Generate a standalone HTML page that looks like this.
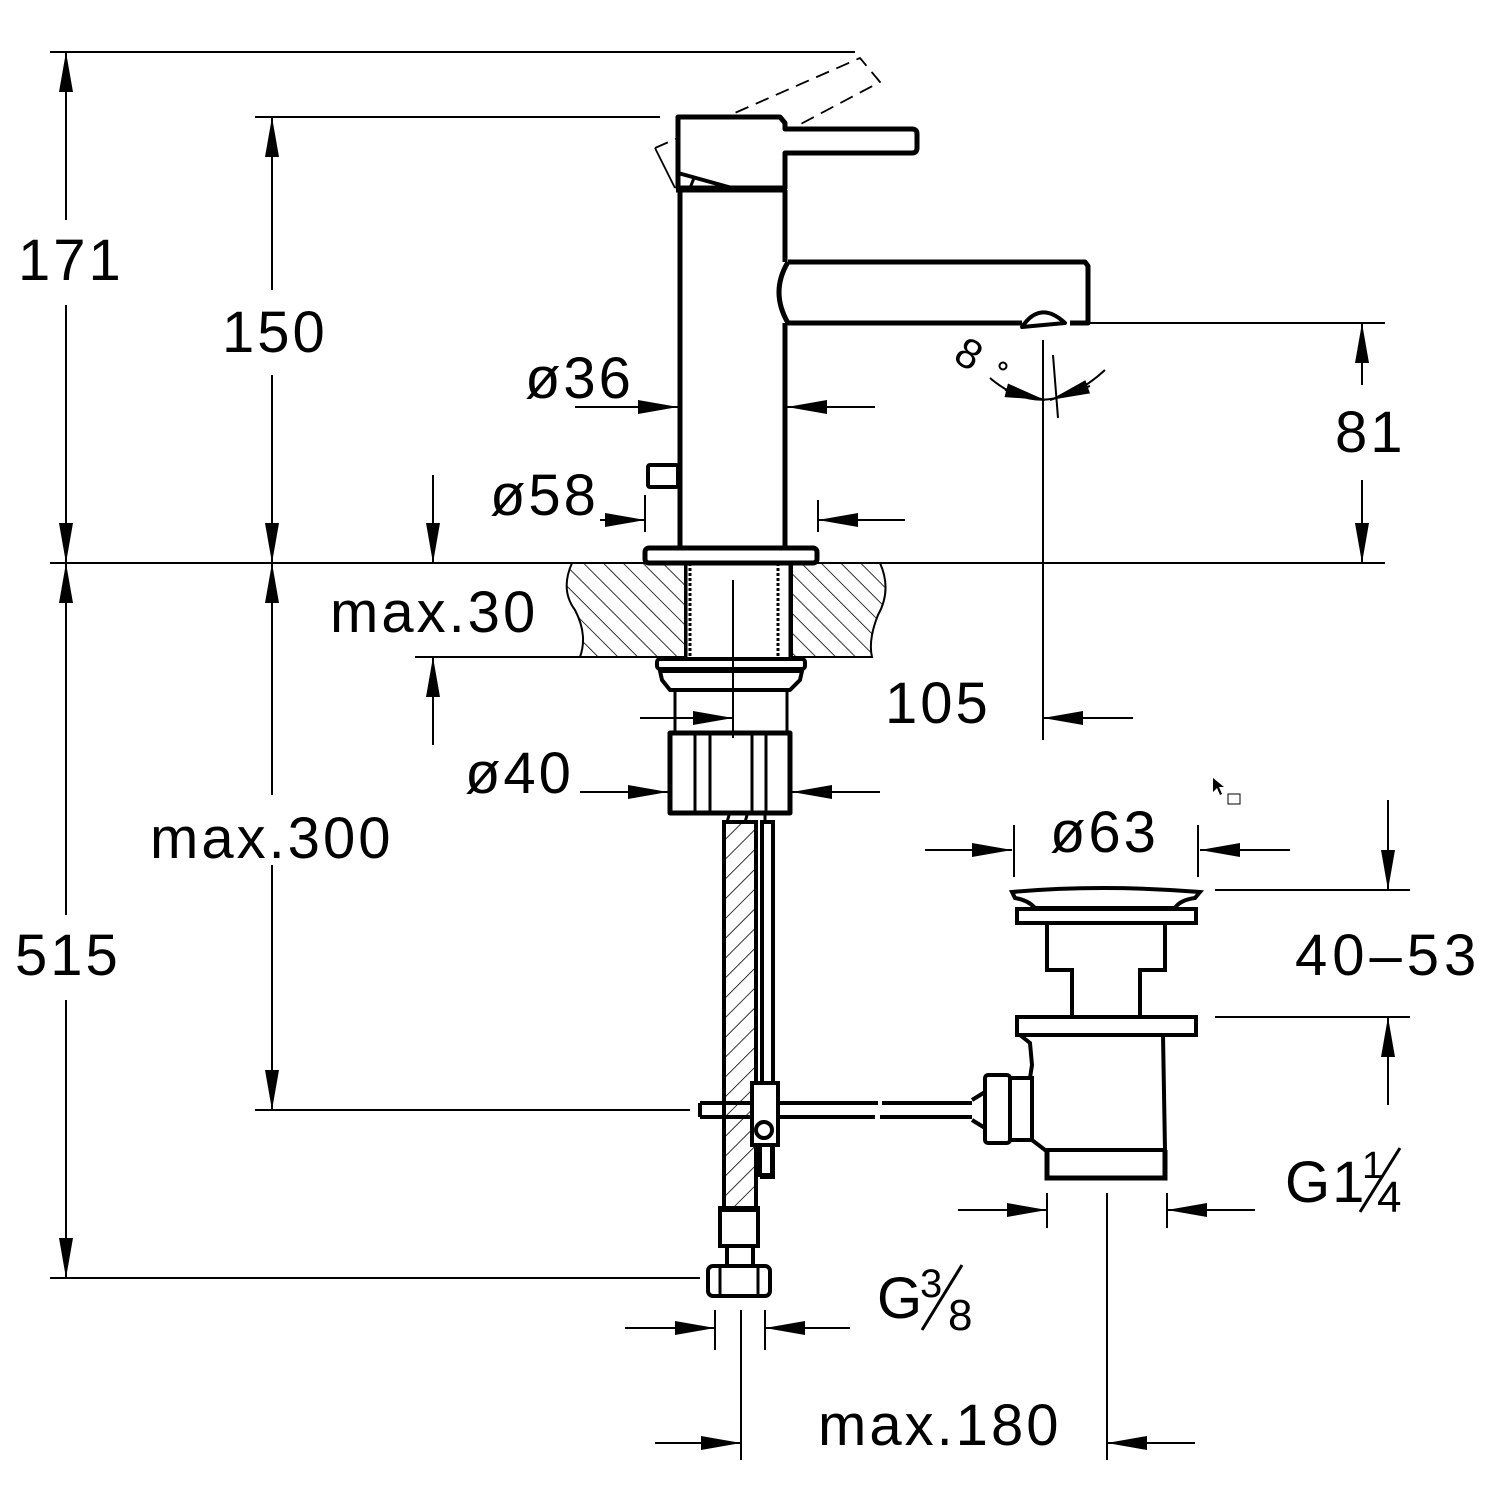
<!DOCTYPE html>
<html><head><meta charset="utf-8"><style>
html,body{margin:0;padding:0;background:#fff}
svg{display:block}
text{font-family:"Liberation Sans","DejaVu Sans",sans-serif;font-size:58px;fill:#000;letter-spacing:3px}
</style></head><body>
<svg width="1500" height="1500" viewBox="0 0 1500 1500" xmlns="http://www.w3.org/2000/svg">
<defs>
<marker id="a" viewBox="0 0 40 14" refX="40" refY="7" markerWidth="40" markerHeight="14" markerUnits="userSpaceOnUse" orient="auto"><path d="M0,0 L40,7 L0,14 Z" fill="#000"/></marker>
<pattern id="h" patternUnits="userSpaceOnUse" width="14" height="14" patternTransform="rotate(-45)"><line x1="0" y1="0" x2="0" y2="14" stroke="#000" stroke-width="1.6"/></pattern>
<pattern id="h2" patternUnits="userSpaceOnUse" width="14" height="14" patternTransform="rotate(45)"><line x1="0" y1="0" x2="0" y2="14" stroke="#000" stroke-width="1.6"/></pattern>
</defs>
<g stroke="#000" fill="none" stroke-width="2">
<line x1="50" y1="52" x2="855" y2="52"/>
<line x1="255" y1="117" x2="660" y2="117"/>
<line x1="50" y1="563" x2="1385" y2="563"/>
<line x1="50" y1="1278" x2="700" y2="1278"/>
<line x1="255" y1="1110" x2="690" y2="1110"/>
<line x1="415" y1="657" x2="580" y2="657"/>
<line x1="1090" y1="323" x2="1385" y2="323"/>
<line x1="1215" y1="890" x2="1410" y2="890"/>
<line x1="1215" y1="1017" x2="1410" y2="1017"/>
<line x1="66" y1="220" x2="66" y2="52" marker-end="url(#a)"/>
<line x1="66" y1="305" x2="66" y2="563" marker-end="url(#a)"/>
<line x1="66" y1="915" x2="66" y2="563" marker-end="url(#a)"/>
<line x1="66" y1="1000" x2="66" y2="1278" marker-end="url(#a)"/>
<line x1="272" y1="290" x2="272" y2="117" marker-end="url(#a)"/>
<line x1="272" y1="375" x2="272" y2="563" marker-end="url(#a)"/>
<line x1="272" y1="795" x2="272" y2="563" marker-end="url(#a)"/>
<line x1="272" y1="865" x2="272" y2="1110" marker-end="url(#a)"/>
<line x1="433" y1="475" x2="433" y2="563" marker-end="url(#a)"/>
<line x1="433" y1="745" x2="433" y2="657" marker-end="url(#a)"/>
<line x1="1362" y1="385" x2="1362" y2="323" marker-end="url(#a)"/>
<line x1="1362" y1="480" x2="1362" y2="563" marker-end="url(#a)"/>
<line x1="1388" y1="800" x2="1388" y2="890" marker-end="url(#a)"/>
<line x1="1388" y1="1105" x2="1388" y2="1017" marker-end="url(#a)"/>
<line x1="575" y1="407" x2="678" y2="407" marker-end="url(#a)"/>
<line x1="875" y1="407" x2="787" y2="407" marker-end="url(#a)"/>
<line x1="600" y1="520" x2="645" y2="520" marker-end="url(#a)"/>
<line x1="905" y1="520" x2="818" y2="520" marker-end="url(#a)"/>
<line x1="645" y1="495" x2="645" y2="532"/>
<line x1="818" y1="500" x2="818" y2="532"/>
<line x1="580" y1="792" x2="668" y2="792" marker-end="url(#a)"/>
<line x1="880" y1="792" x2="792" y2="792" marker-end="url(#a)"/>
<line x1="733" y1="580" x2="733" y2="738"/>
<line x1="640" y1="718" x2="733" y2="718" marker-end="url(#a)"/>
<line x1="1043" y1="340" x2="1043" y2="740"/>
<line x1="1133" y1="718" x2="1043" y2="718" marker-end="url(#a)"/>
<line x1="1053" y1="355" x2="1058" y2="418"/>
<path d="M990,378 Q1045,425 1105,370"/>
<line x1="1005" y1="390" x2="1045" y2="400" marker-end="url(#a)"/>
<line x1="1090" y1="386" x2="1050" y2="400" marker-end="url(#a)"/>
<line x1="925" y1="850" x2="1012" y2="850" marker-end="url(#a)"/>
<line x1="1290" y1="850" x2="1200" y2="850" marker-end="url(#a)"/>
<line x1="1014" y1="825" x2="1014" y2="877"/>
<line x1="1198" y1="825" x2="1198" y2="877"/>
<line x1="958" y1="1210" x2="1047" y2="1210" marker-end="url(#a)"/>
<line x1="1255" y1="1210" x2="1167" y2="1210" marker-end="url(#a)"/>
<line x1="1047" y1="1193" x2="1047" y2="1228"/>
<line x1="1167" y1="1193" x2="1167" y2="1228"/>
<line x1="1107" y1="1193" x2="1107" y2="1460"/>
<line x1="625" y1="1328" x2="715" y2="1328" marker-end="url(#a)"/>
<line x1="850" y1="1328" x2="765" y2="1328" marker-end="url(#a)"/>
<line x1="715" y1="1310" x2="715" y2="1350"/>
<line x1="765" y1="1310" x2="765" y2="1350"/>
<line x1="741" y1="1310" x2="741" y2="1460"/>
<line x1="655" y1="1443" x2="741" y2="1443" marker-end="url(#a)"/>
<line x1="1195" y1="1443" x2="1107" y2="1443" marker-end="url(#a)"/>
</g>

<g stroke="#000" stroke-width="2">
<path d="M572,563 Q560,590 575,610 Q588,635 580,657 L685,657 L685,563 Z" fill="url(#h)"/>
<path d="M792,563 L880,563 Q892,590 878,615 Q868,640 872,657 L792,657 Z" fill="url(#h)"/>
</g>

<g stroke="#000" fill="none" stroke-width="5" stroke-linejoin="round">
<path d="M655,148 L860,58 L880,82 L680,188" stroke-width="1.8" stroke-dasharray="14,8"/>
<path d="M655,148 L675,188" stroke-width="1.8"/>
<path d="M678,117 L780,117 L785,123 L785,129 L912,129 Q917,129 917,134 L917,148 Q917,153 912,153 L785,153 L785,188 L678,188 Z" fill="#fff"/>
<path d="M678,173 L732,188" stroke-width="4"/>
<path d="M690,188 L694,178" stroke-width="3"/>
<line x1="680" y1="190" x2="680" y2="547"/>
<line x1="785" y1="190" x2="785" y2="262"/>
<line x1="785" y1="323" x2="785" y2="547"/>
<line x1="676" y1="189" x2="787" y2="189" stroke-width="7"/>
<path d="M788,262 L1085,262 L1088,266 L1088,323 L1070,323"/>
<path d="M788,262 Q770,292 788,323 L1022,323"/>
<path d="M1022,327 Q1040,300 1065,323 L1022,327 Z" stroke-width="4"/>
<rect x="648" y="465" width="30" height="22" rx="2" stroke-width="4"/>
<rect x="645" y="548" width="172" height="15" rx="4" stroke-width="5"/>
<line x1="686" y1="563" x2="686" y2="657" stroke-width="3"/>
<line x1="690" y1="563" x2="690" y2="657" stroke-width="3" stroke-dasharray="3,2"/>
<line x1="778" y1="563" x2="778" y2="657" stroke-width="3" stroke-dasharray="3,2"/>
<line x1="790" y1="563" x2="790" y2="657" stroke-width="3"/>
<rect x="657" y="659" width="148" height="10" rx="3" stroke-width="4"/>
<path d="M660,671 L802,671 L800,680 L790,690 L670,690 L662,680 Z" stroke-width="4"/>
<line x1="675" y1="690" x2="675" y2="733" stroke-width="3"/>
<line x1="787" y1="690" x2="787" y2="733" stroke-width="3"/>
<line x1="672" y1="733" x2="790" y2="733" stroke-width="3"/>
<rect x="670" y="733" width="120" height="80" stroke-width="5"/>
<line x1="695" y1="733" x2="695" y2="813" stroke-width="3"/>
<line x1="710" y1="733" x2="710" y2="813" stroke-width="3"/>
<line x1="752" y1="733" x2="752" y2="813" stroke-width="3"/>
<line x1="766" y1="733" x2="766" y2="813" stroke-width="3"/>
</g>

<g stroke="#000" stroke-width="4" fill="none">
<rect x="724" y="822" width="32" height="388" fill="url(#h2)"/>
<rect x="762" y="822" width="11" height="355" fill="#fff"/>
<path d="M727,822 L730,812 M745,822 L748,812 M765,822 L765,812" stroke-width="3"/>
<rect x="720" y="1208" width="38" height="38"/>
<rect x="727" y="1246" width="26" height="20"/>
<rect x="708" y="1266" width="62" height="30" rx="5"/>
<line x1="720" y1="1266" x2="720" y2="1296" stroke-width="3"/>
<line x1="758" y1="1266" x2="758" y2="1296" stroke-width="3"/>
<path d="M700,1103 L878,1103 M700,1117 L875,1117 M700,1103 L700,1117"/>
<path d="M882,1103 L972,1103 M880,1117 L972,1117"/>
<rect x="752" y="1083" width="26" height="62" fill="#fff"/>
<circle cx="764" cy="1130" r="8" fill="#fff"/>
<rect x="760" y="1145" width="12" height="30" fill="#fff"/>
<path d="M972,1100 L985,1092 L985,1128 L972,1120"/>
<rect x="985" y="1075" width="25" height="68" rx="3"/>
<rect x="1010" y="1078" width="22" height="62"/>
<path d="M1012,892 Q1100,884 1200,892 L1195,898 Q1180,900 1175,908 L1035,908 Q1028,900 1015,898 Z" stroke-width="4"/>
<rect x="1017" y="909" width="179" height="14"/>
<path d="M1047,923 L1047,970 L1072,970 L1072,1015 M1165,923 L1165,970 L1140,970 L1140,1015"/>
<rect x="1017" y="1017" width="179" height="18"/>
<path d="M1020,1035 L1030,1043 L1032,1065 L1030,1078 M1032,1140 L1045,1150 L1165,1150 L1163,1035"/>
<path d="M1047,1150 L1047,1178 L1165,1178 L1165,1150" stroke-width="5"/>
</g>

<path d="M1213,778 L1213,792 L1217,788 L1220,795 L1222,794 L1219,787 L1224,787 Z" fill="#000"/>
<rect x="1228" y="794" width="12" height="10" fill="none" stroke="#000" stroke-width="1"/>

<text x="18" y="280">171</text>
<text x="222" y="352">150</text>
<text x="15" y="975">515</text>
<text x="150" y="858">max.300</text>
<text x="330" y="632">max.30</text>
<text x="525" y="398">ø36</text>
<text x="490" y="515">ø58</text>
<text x="465" y="793">ø40</text>
<text x="885" y="723">105</text>
<text x="1335" y="452">81</text>
<text x="1050" y="852">ø63</text>
<text x="1295" y="975" style="letter-spacing:5px">40–53</text>
<text x="1285" y="1202" style="letter-spacing:2px">G1</text>
<text x="1362" y="1178" style="font-size:38px;letter-spacing:0">1</text>
<line x1="1360" y1="1212" x2="1400" y2="1148" stroke="#000" stroke-width="3"/>
<text x="1377" y="1212" style="font-size:44px;letter-spacing:0">4</text>
<text x="877" y="1318" style="letter-spacing:0">G</text>
<text x="920" y="1297" style="font-size:40px;letter-spacing:0">3</text>
<line x1="922" y1="1330" x2="962" y2="1265" stroke="#000" stroke-width="3"/>
<text x="948" y="1330" style="font-size:44px;letter-spacing:0">8</text>
<text x="818" y="1445">max.180</text>
<text x="955" y="372" style="font-size:42px" transform="rotate(30 975 360)">8</text>
<circle cx="1003" cy="366" r="3.5" fill="none" stroke="#000" stroke-width="2"/>
</svg>
</body></html>
